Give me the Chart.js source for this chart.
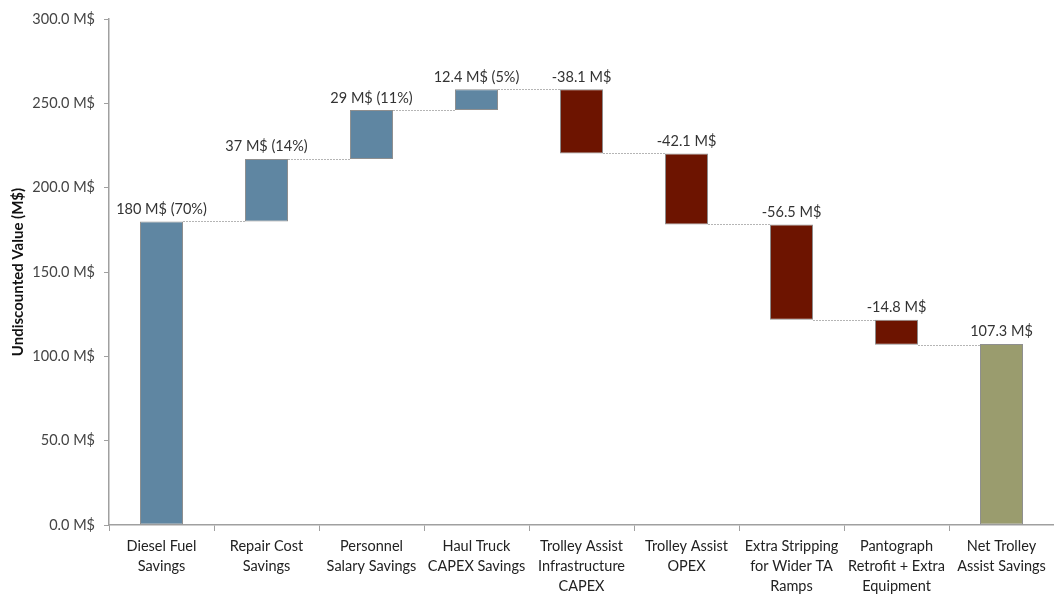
<!DOCTYPE html>
<html>
<head>
<meta charset="utf-8">
<script src="https://cdn.jsdelivr.net/npm/chart.js@4.4.1/dist/chart.umd.min.js"></script>
<style>
  html, body { margin: 0; padding: 0; background: #fff; }
  #wrap { width: 1054px; height: 595px; }
</style>
</head>
<body>
<div id="wrap"><canvas id="myChart"></canvas></div>
<script>
// waterfall: trolley assist savings

const categories = [
  ['Diesel Fuel', 'Savings'],
  ['Repair Cost', 'Savings'],
  ['Personnel', 'Salary Savings'],
  ['Haul Truck', 'CAPEX Savings'],
  ['Trolley Assist', 'Infrastructure', 'CAPEX'],
  ['Trolley Assist', 'OPEX'],
  ['Extra Stripping', 'for Wider TA', 'Ramps'],
  ['Pantograph', 'Retrofit + Extra', 'Equipment'],
  ['Net Trolley', 'Assist Savings']
];
const changes = [180, 37, 29, 12.4, -38.1, -42.1, -56.5, -14.8];
const netTotal = 107.3;
const barLabels = ['180 M$ (70%)', '37 M$ (14%)', '29 M$ (11%)', '12.4 M$ (5%)',
  '-38.1 M$', '-42.1 M$', '-56.5 M$', '-14.8 M$', '107.3 M$'];
const yTicks = [0, 50, 100, 150, 200, 250, 300];

// build floating bars from running total
let running = 0;
let bars = [];
let colors = [];
changes.forEach(c => {
  bars.push([running, running + c]);
  colors.push(c >= 0 ? '#5f86a2' : '#6d1400');
  running += c;
});
bars.push([0, netTotal]);
colors.push('#9a9c6e');

const FONT = 'Lato, "Open Sans", sans-serif';

// dotted connectors + value labels
const waterfallExtras = {
  id: 'waterfallExtras',
  afterDatasetsDraw(chart) {
    const ctx = chart.ctx;
    const meta = chart.getDatasetMeta(0);
    const y = chart.scales.y;
    ctx.save();
    ctx.strokeStyle = '#b5b5b5';
    ctx.lineWidth = 1.2;
    ctx.setLineDash([2, 1]);
    for (let i = 0; i < meta.data.length - 1; i++) {
      const a = meta.data[i], b = meta.data[i + 1];
      const py = Math.round(y.getPixelForValue(bars[i][1])) + 0.5;
      ctx.beginPath();
      ctx.moveTo(a.x + a.width / 2, py);
      ctx.lineTo(b.x - b.width / 2, py);
      ctx.stroke();
    }
    ctx.setLineDash([]);
    ctx.fillStyle = '#333';
    ctx.font = '14.5px ' + FONT;
    ctx.textAlign = 'center';
    ctx.textBaseline = 'bottom';
    meta.data.forEach((el, i) => {
      const top = Math.max(bars[i][0], bars[i][1]);
      ctx.fillText(barLabels[i], el.x, y.getPixelForValue(top) - 5);
    });
    ctx.restore();
  }
};

let ctx = document.getElementById('myChart').getContext('2d');

let myChart = new Chart(ctx, {
  type: 'bar',
  data: {
    labels: categories,
    datasets: [{
      data: bars,
      backgroundColor: colors,
      borderColor: '#8f8f8f',
      borderWidth: 1,
      borderSkipped: false,
      categoryPercentage: 1,
      barPercentage: 0.41
    }]
  },
  plugins: [waterfallExtras],
  options: {
    responsive: true,
    maintainAspectRatio: false,
    animation: false,
    layout: { padding: { top: 19, right: 0, left: 9, bottom: 0 } },
    plugins: {
      legend: { display: false },
      tooltip: { enabled: false }
    },
    scales: {
      x: {
        grid: {
          offset: true,
          drawOnChartArea: false,
          color: '#a0a0a0',
          tickLength: 6
        },
        border: { color: '#a0a0a0', width: 1.5 },
        ticks: {
          color: '#222',
          font: { family: FONT, size: 14.5, lineHeight: 1.38 },
          maxRotation: 0,
          autoSkip: false,
          padding: 5
        },
        afterFit(scale) { scale.height = 70; }
      },
      y: {
        min: 0,
        max: 300,
        afterBuildTicks(scale) {
          scale.ticks = yTicks.map(v => ({ value: v }));
        },
        grid: {
          drawOnChartArea: false,
          color: '#a0a0a0',
          tickLength: 5
        },
        border: { color: '#a0a0a0', width: 1.5 },
        ticks: {
          color: '#444',
          font: { family: FONT, size: 14.5 },
          padding: 9,
          callback: v => v.toFixed(1) + ' M$'
        },
        title: {
          display: true,
          text: 'Undiscounted Value (M$)',
          color: '#111',
          font: { family: FONT, size: 15, weight: 'bold' },
          padding: { top: 0, bottom: 4 }
        },
        afterFit(scale) { scale.width = 100; }
      }
    }
  }
});
</script>
</body>
</html>
